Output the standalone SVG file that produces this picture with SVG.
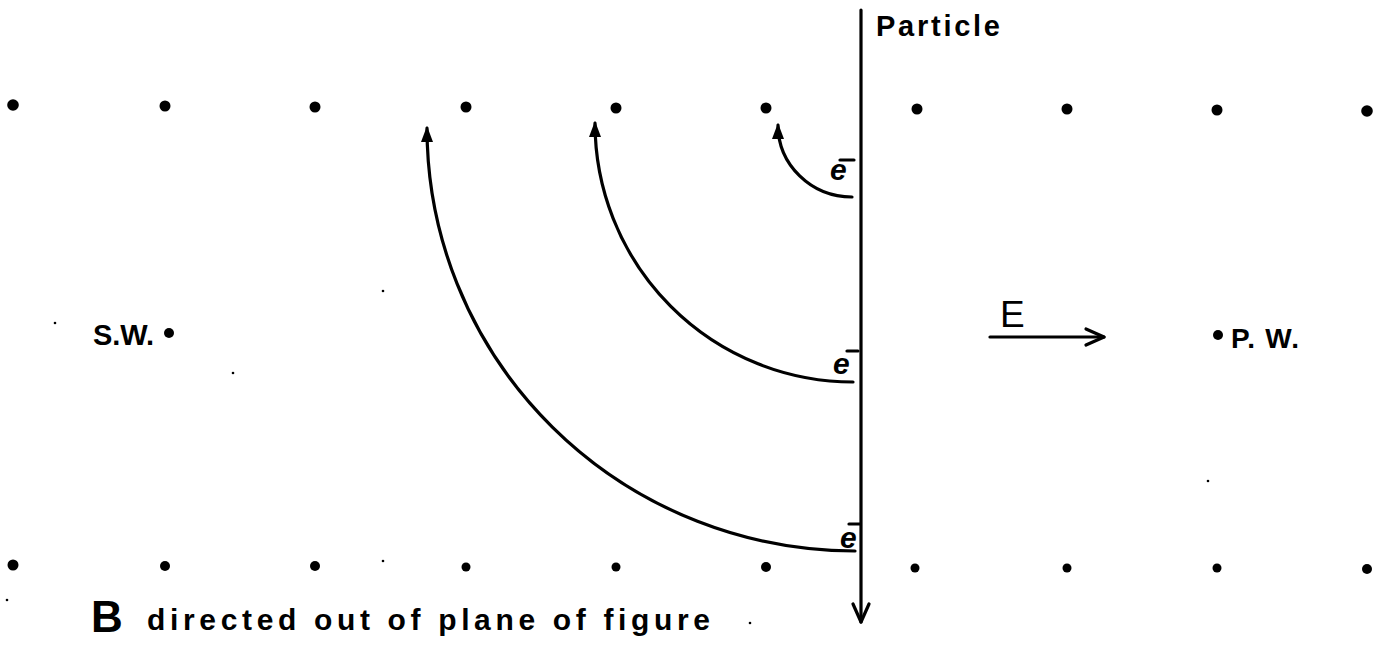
<svg xmlns="http://www.w3.org/2000/svg" width="1383" height="648" viewBox="0 0 1383 648">
<style>
.ln{fill:none;stroke:#000;stroke-width:3.2;stroke-linecap:round;stroke-linejoin:round}
.dot{fill:#000}
.lbl{font-family:"Liberation Sans",Arial,sans-serif;font-weight:bold;fill:#000}
.el{font-family:"Liberation Sans",Arial,sans-serif;font-weight:bold;font-style:italic;font-size:30px;fill:#000}
.sp{fill:#000}
</style>
<defs>
<marker id="tri" markerWidth="18" markerHeight="14" refX="14" refY="6" orient="auto" markerUnits="userSpaceOnUse">
<path d="M0,0 L16,6 L0,12 Z" fill="#000"/>
</marker>
</defs>
<rect width="1383" height="648" fill="#fff"/>
<g id="field-dots">
<circle class="dot" cx="13" cy="105" r="5.8"/>
<circle class="dot" cx="165" cy="106" r="5.5"/>
<circle class="dot" cx="315" cy="107" r="5.5"/>
<circle class="dot" cx="466" cy="107" r="5.5"/>
<circle class="dot" cx="616" cy="108" r="5.5"/>
<circle class="dot" cx="766" cy="108" r="5.5"/>
<circle class="dot" cx="917" cy="109" r="5.5"/>
<circle class="dot" cx="1067" cy="109" r="5.5"/>
<circle class="dot" cx="1217" cy="110" r="5.5"/>
<circle class="dot" cx="1367" cy="111" r="5.8"/>
<circle class="dot" cx="13" cy="565" r="5.5"/>
<circle class="dot" cx="165" cy="566" r="5"/>
<circle class="dot" cx="315" cy="566" r="5"/>
<circle class="dot" cx="466" cy="567" r="4.5"/>
<circle class="dot" cx="616" cy="567" r="4.5"/>
<circle class="dot" cx="766" cy="567" r="5"/>
<circle class="dot" cx="915" cy="568" r="4.5"/>
<circle class="dot" cx="1067" cy="568" r="4.5"/>
<circle class="dot" cx="1217" cy="568" r="4.5"/>
<circle class="dot" cx="1367" cy="569" r="5"/>
</g>
<g id="specks">
<circle class="sp" cx="55" cy="323" r="1.3"/>
<circle class="sp" cx="383" cy="291" r="1.3"/>
<circle class="sp" cx="233" cy="373" r="1.3"/>
<circle class="sp" cx="383" cy="561" r="1.3"/>
<circle class="sp" cx="750" cy="623" r="1.3"/>
<circle class="sp" cx="1208" cy="481" r="1.3"/>
<circle class="sp" cx="7" cy="600" r="1.3"/>
</g>
<g id="particle">
<text class="lbl" x="876" y="36" font-size="29" textLength="124" lengthAdjust="spacing">Particle</text>
</g>
<g id="sw">
<text class="lbl" x="93" y="345" font-size="29" textLength="61" lengthAdjust="spacing">S.W.</text>
<circle class="dot" cx="169" cy="333" r="5"/>
</g>
<g id="pw">
<circle class="dot" cx="1218" cy="335" r="5"/>
<text class="lbl" x="1231" y="348" font-size="28" textLength="68" lengthAdjust="spacing">P. W.</text>
</g>
<g id="efield">
<text x="1000" y="327" font-family="Liberation Sans, Arial, sans-serif" font-size="37" fill="#000">E</text>
</g>
<g id="caption">
<text class="lbl" x="91" y="632" font-size="44">B</text>
<text class="lbl" x="147" y="630" font-size="30" textLength="563" lengthAdjust="spacing">directed out of plane of figure</text>
</g>
<g id="electrons">
<text class="el" x="830" y="180">e</text>
<text class="el" x="833" y="374">e</text>
<text class="el" x="840" y="548">e</text>
</g>
<g id="connectors">
<path class="ln" d="M861,10 L861,622"/>
<path class="ln" d="M853,604 L861,622 L869,604"/>
<path class="ln" d="M990,337 L1104,337"/>
<path class="ln" d="M1086,329 L1104,337 L1086,345"/>
<path class="ln" d="M852,197 A74,72 0 0 1 778,125" marker-end="url(#tri)"/>
<path class="ln" d="M853,382 A258,259 0 0 1 595,123" marker-end="url(#tri)"/>
<path class="ln" d="M855,551 A428,423 0 0 1 427,128" marker-end="url(#tri)"/>
<path class="ln" d="M840,160 L854,160"/>
<path class="ln" d="M847,351 L858,351"/>
<path class="ln" d="M849,524 L860,524"/>
</g>
</svg>
